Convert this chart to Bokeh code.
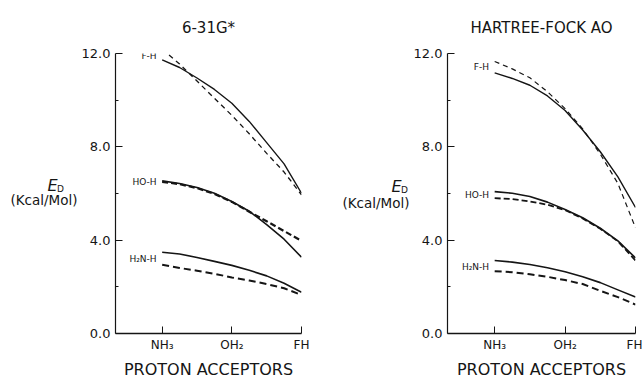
from bokeh.plotting import figure
from bokeh.models import Range1d, FixedTicker, Label, Title
from bokeh.layouts import row
from bokeh.embed import file_html
from bokeh.resources import INLINE

# ---- data ----
categories = ["NH₃", "OH₂", "FH"]
cat_pos = [0, 1, 2]
x_pos = [0, 0.25, 0.5, 0.75, 1, 1.25, 1.5, 1.75, 2]   # positions along the acceptor axis
y_ticks = [0, 4, 8, 12]
y_tick_labels = ["0.0", "4.0", "8.0", "12.0"]

# 6-31G* panel
fh_631_solid = [11.73, 11.40, 10.95, 10.46, 9.87, 9.09, 8.18, 7.27, 6.01]
fh_631_dash = [12.18, 11.55, 10.82, 10.08, 9.35, 8.56, 7.72, 6.92, 5.94]
hoh_631_solid = [6.54, 6.43, 6.26, 6.01, 5.66, 5.24, 4.67, 4.04, 3.27]
hoh_631_dash = [6.50, 6.40, 6.23, 5.98, 5.64, 5.22, 4.81, 4.39, 3.97]
nh_631_solid = [3.48, 3.41, 3.26, 3.09, 2.92, 2.71, 2.47, 2.15, 1.77]
nh_631_dash = [2.95, 2.81, 2.69, 2.56, 2.40, 2.27, 2.12, 1.94, 1.65]

# Hartree-Fock AO panel
fh_hf_solid = [11.17, 10.93, 10.64, 10.18, 9.56, 8.72, 7.79, 6.71, 5.40]
fh_hf_dash = [11.66, 11.34, 10.96, 10.36, 9.64, 8.77, 7.69, 6.43, 4.53]
hoh_hf_solid = [6.08, 6.01, 5.87, 5.63, 5.31, 4.96, 4.51, 3.97, 3.24]
hoh_hf_dash = [5.80, 5.76, 5.66, 5.52, 5.29, 4.93, 4.49, 3.95, 3.13]
nh_hf_solid = [3.13, 3.06, 2.96, 2.82, 2.65, 2.43, 2.18, 1.87, 1.56]
nh_hf_dash = [2.67, 2.63, 2.54, 2.43, 2.29, 2.12, 1.83, 1.56, 1.24]

INK = "#151515"
FONT = "DejaVu Sans"


def ylabel_fig(width, e_xy, unit_xy):
    """Narrow figure holding the E_D (Kcal/Mol) axis title."""
    f = figure(width=width, height=381, output_backend="svg", toolbar_location=None,
               x_range=Range1d(0, width), y_range=Range1d(381, 0),
               x_axis_location=None, y_axis_location=None,
               min_border_left=0, min_border_right=0,
               min_border_top=0, min_border_bottom=0)
    f.outline_line_color = None
    f.grid.visible = False
    f.background_fill_color = "white"
    f.border_fill_color = "white"
    f.add_layout(Label(x=e_xy[0], y=e_xy[1], text="E", text_align="center",
                       text_baseline="middle", text_font=FONT,
                       text_font_style="italic", text_font_size="16px",
                       text_color=INK))
    f.add_layout(Label(x=e_xy[0] + 8, y=e_xy[1] + 5, text="D", text_align="center",
                       text_baseline="middle", text_font=FONT,
                       text_font_size="9px", text_color=INK))
    f.add_layout(Label(x=unit_xy[0], y=unit_xy[1], text="(Kcal/Mol)",
                       text_align="right", text_baseline="middle",
                       text_font=FONT, text_font_size="13.5px", text_color=INK))
    return f


def panel(title, title_offset, series, width, border_left, border_right,
          border_top, border_bottom, label_pos):
    p = figure(width=width, height=381, output_backend="svg", toolbar_location=None,
               x_range=Range1d(-0.67, 2.0), y_range=Range1d(0, 12),
               min_border_left=border_left, min_border_right=border_right,
               min_border_top=border_top, min_border_bottom=border_bottom)
    p.outline_line_color = None
    p.grid.visible = False
    p.background_fill_color = "white"
    p.border_fill_color = "white"

    # y axis
    ya = p.yaxis[0]
    ya.ticker = FixedTicker(ticks=y_ticks, minor_ticks=[2, 6, 10])
    ya.major_label_overrides = {t: l for t, l in zip(y_ticks, y_tick_labels)}
    ya.major_tick_in = 7
    ya.major_tick_out = 0
    ya.minor_tick_in = 3
    ya.minor_tick_out = 0
    ya.major_label_standoff = 5
    ya.axis_line_color = INK
    ya.major_tick_line_color = INK
    ya.minor_tick_line_color = INK
    ya.axis_line_width = 1.2
    ya.major_label_text_font = FONT
    ya.major_label_text_font_size = "13px"
    ya.major_label_text_color = INK

    # x axis
    xa = p.xaxis[0]
    xa.ticker = FixedTicker(ticks=cat_pos, minor_ticks=[])
    xa.major_label_overrides = {t: l for t, l in zip(cat_pos, categories)}
    xa.major_tick_in = 7
    xa.major_tick_out = 0
    xa.major_label_standoff = 4
    xa.axis_line_color = INK
    xa.axis_line_width = 1.6
    xa.major_tick_line_color = INK
    xa.major_label_text_font = FONT
    xa.major_label_text_font_size = "12px"
    xa.major_label_text_color = INK
    xa.axis_label = "PROTON ACCEPTORS"
    xa.axis_label_standoff = 5
    xa.axis_label_text_font = FONT
    xa.axis_label_text_font_style = "normal"
    xa.axis_label_text_font_size = "16px"
    xa.axis_label_text_color = INK

    # title
    p.add_layout(Title(text=title, align="center", offset=title_offset, standoff=33,
                       text_font=FONT, text_font_style="normal",
                       text_font_size="15px", text_color=INK), "above")

    # curves
    for (ys, dashed, lw, dash) in series:
        if dashed:
            p.line(x_pos, ys, line_color=INK, line_width=lw, line_dash=dash)
        else:
            p.line(x_pos, ys, line_color=INK, line_width=lw)

    # curve labels
    for txt, yv in label_pos:
        p.add_layout(Label(x=-0.08, y=yv, text=txt, text_align="right",
                           text_baseline="middle", text_font=FONT,
                           text_font_size="9px", text_color=INK))
    return p


lab_left = ylabel_fig(78, (52, 179), (77, 199))
left = panel("6-31G*", -4,
             [(fh_631_solid, False, 1.4, None), (fh_631_dash, True, 1.3, "5 4"),
              (hoh_631_solid, False, 1.6, None), (hoh_631_dash, True, 2.2, "6 3"),
              (nh_631_solid, False, 1.6, None), (nh_631_dash, True, 2.0, "7 4")],
             243, 34, 20, 51, 45,
             [("F-H", 11.89), ("HO-H", 6.5), ("H₂N-H", 3.2)])

lab_right = ylabel_fig(89, (75, 181), (88, 204))
right = panel("HARTREE-FOCK AO", -8,
              [(fh_hf_solid, False, 1.4, None), (fh_hf_dash, True, 1.2, "5 4"),
               (hoh_hf_solid, False, 1.6, None), (hoh_hf_dash, True, 1.8, "6 3"),
               (nh_hf_solid, False, 1.6, None), (nh_hf_dash, True, 2.0, "7 4")],
              232, 36, 7, 53, 43,
              [("F-H", 11.44), ("HO-H", 5.92), ("H₂N-H", 2.85)])

layout = row(lab_left, left, lab_right, right)
open("out.html", "w").write(file_html(layout, INLINE))
